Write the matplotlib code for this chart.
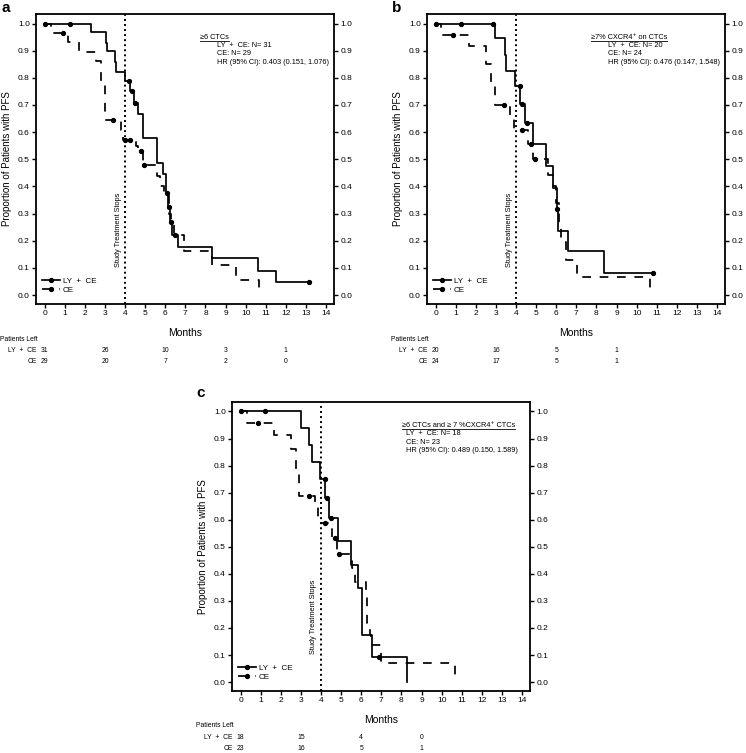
import numpy as np
import matplotlib
matplotlib.use("Agg")
import matplotlib.pyplot as plt
from matplotlib.lines import Line2D

plt.rcParams.update({
    "font.family": ["Liberation Sans", "DejaVu Sans"],
    "axes.linewidth": 1.3,
    "xtick.major.width": 1.0,
    "ytick.major.width": 1.0,
})

# ── panel a : >=6 CTCs ─────────────────────────────────────────
a_ly_t = [0, 2.3, 3.05, 3.1, 3.5, 3.55, 3.98, 4.25, 4.45, 4.65, 4.9, 5.58, 5.9,
          6.05, 6.15, 6.25, 6.35, 6.64, 8.33, 10.6, 11.5]
a_ly_s = [1.0, 0.967, 0.93, 0.90, 0.86, 0.82, 0.79, 0.75, 0.707, 0.668, 0.58, 0.488,
          0.445, 0.375, 0.326, 0.27, 0.221, 0.178, 0.135, 0.09, 0.047]
a_ly_end = 13.13
a_ly_cens = [0.0, 1.24, 4.22, 4.35, 4.5, 6.1, 6.2, 6.3, 6.5, 13.13]

a_ce_t = [0, 0.3, 1.17, 1.7, 2.57, 2.8, 3.0, 3.8, 3.92, 4.55, 4.65, 4.9, 5.6, 5.76,
          5.95, 6.2, 6.3, 6.45, 6.95, 8.33, 9.52, 10.65]
a_ce_s = [1.0, 0.966, 0.931, 0.896, 0.862, 0.79, 0.643, 0.606, 0.572, 0.55, 0.529,
          0.48, 0.44, 0.40, 0.37, 0.30, 0.26, 0.221, 0.162, 0.111, 0.055, 0.0]
a_ce_end = 10.65
a_ce_cens = [0.9, 3.4, 4.0, 4.24, 4.78, 4.96]

a_header = "\u22656 CTCs"
a_lines = ["LY  +  CE: N= 31", "CE: N= 29", "HR (95% CI): 0.403 (0.151, 1.076)"]
a_risk_months = [0, 3, 6, 9, 12]
a_ly_risk = [31, 26, 10, 3, 1]
a_ce_risk = [29, 20, 7, 2, 0]

# ── panel b : >=7% CXCR4+ on CTCs ──────────────────────────────
b_ly_t = [0, 2.94, 3.44, 3.52, 3.94, 4.22, 4.45, 4.85, 5.48, 5.83, 6.02, 6.08,
          6.61, 8.36]
b_ly_s = [1.0, 0.945, 0.883, 0.825, 0.77, 0.705, 0.634, 0.555, 0.477, 0.396,
          0.316, 0.237, 0.162, 0.08]
b_ly_end = 10.81
b_ly_cens = [0.0, 1.25, 2.86, 4.19, 4.3, 4.55, 6.05, 10.81]

b_ce_t = [0, 0.28, 1.66, 2.53, 2.74, 2.93, 3.69, 3.9, 4.6, 4.85, 5.6, 5.83, 6.0,
          6.16, 6.25, 6.5, 7.03, 10.65]
b_ce_s = [1.0, 0.958, 0.916, 0.852, 0.78, 0.699, 0.655, 0.606, 0.557, 0.5, 0.443,
          0.40, 0.34, 0.258, 0.197, 0.129, 0.065, 0.0]
b_ce_end = 10.65
b_ce_cens = [0.87, 3.41, 4.29, 4.72, 4.95]

b_header = "\u22657% CXCR4\u207a on CTCs"
b_lines = ["LY  +  CE: N= 20", "CE: N= 24", "HR (95% CI): 0.476 (0.147, 1.548)"]
b_risk_months = [0, 3, 6, 9]
b_ly_risk = [20, 16, 5, 1]
b_ce_risk = [24, 17, 5, 1]

# ── panel c : both ─────────────────────────────────────────────
c_ly_t = [0, 2.98, 3.39, 3.56, 3.97, 4.22, 4.42, 4.85, 5.49, 5.85, 6.04, 6.53, 8.3]
c_ly_s = [1.0, 0.938, 0.877, 0.813, 0.752, 0.68, 0.608, 0.521, 0.434, 0.346,
          0.173, 0.091, 0.0]
c_ly_end = 8.3
c_ly_cens = [0.0, 1.21, 4.18, 4.3, 4.48, 6.9]

c_ce_t = [0, 0.3, 1.67, 2.53, 2.74, 2.9, 3.69, 3.87, 4.56, 4.8, 5.52, 5.7, 6.24,
          6.3, 6.45, 6.5, 6.98, 10.65]
c_ce_s = [1.0, 0.957, 0.913, 0.862, 0.78, 0.686, 0.65, 0.588, 0.534, 0.472, 0.42,
          0.37, 0.32, 0.218, 0.173, 0.137, 0.069, 0.0]
c_ce_end = 10.65
c_ce_cens = [0.84, 3.41, 4.18, 4.7, 4.91]

c_header = "\u22656 CTCs and \u2265 7 %CXCR4\u207a CTCs"
c_lines = ["LY  +  CE: N= 18", "CE: N= 23", "HR (95% CI): 0.489 (0.150, 1.589)"]
c_risk_months = [0, 3, 6, 9]
c_ly_risk = [18, 15, 4, 0]
c_ce_risk = [23, 16, 5, 1]

DASH = (0, (5, 5))
DOT = (0, (1, 1.6))
SMALL = 4.9


def step_value(t, s, x):
    idx = np.searchsorted(np.asarray(t), x, side="right") - 1
    return np.asarray(s)[idx]


def km_curve(ax, t, s, end, cens, ls):
    xs = list(t) + [end]
    ys = list(s) + [s[-1]]
    ax.step(xs, ys, where="post", color="black", lw=1.25, linestyle=ls)
    cy = [step_value(t, s, c) for c in cens]
    ax.plot(cens, cy, "o", color="black", ms=2.8, linestyle="none")


def draw_panel(ax, ly, ce, header, lines, hx, lx, hy, months, ly_risk, ce_risk):
    km_curve(ax, *ly, "-")
    km_curve(ax, *ce, DASH)
    ax.axvline(4, color="black", lw=1.4, linestyle=DOT)
    ax.text(3.65, 0.24, "Study Treatment Stops", rotation=90, fontsize=5.3,
            ha="center", va="center")

    ax.set_xlim(-0.43, 14.4)
    ax.set_ylim(-0.033, 1.035)
    ax.set_xticks(range(15))
    ax.set_yticks(np.arange(0, 1.01, 0.1))
    ax.set_yticklabels([f"{v:.1f}" for v in np.arange(0, 1.01, 0.1)])
    ax.tick_params(axis="both", direction="out", length=3, labelsize=6, pad=1.5)
    ax.tick_params(axis="y", right=True, labelright=True)
    ax.set_xlabel("Months", fontsize=7.5)
    ax.xaxis.set_label_coords(0.5, -0.082)
    ax.set_ylabel("Proportion of Patients with PFS", fontsize=7, va="center")
    ax.yaxis.set_label_coords(-0.096, 0.5)

    head = ax.text(hx, hy, header, fontsize=5.3, va="center", ha="left")
    for i, line in enumerate(lines):
        ax.text(lx, hy - 0.031 * (i + 1), line, fontsize=5.3, va="center", ha="left")

    handles = [Line2D([], [], color="black", lw=1.25, marker="o", ms=2.8),
               Line2D([], [], color="black", lw=1.25, marker="o", ms=2.8,
                      linestyle=DASH)]
    ax.legend(handles, ["LY  +  CE", "CE"], loc="lower left",
              bbox_to_anchor=(0.02, 0.035), frameon=False, fontsize=5.8,
              handlelength=2.2, handletextpad=0.4, labelspacing=0.15,
              borderpad=0, borderaxespad=0, numpoints=1)

    tr = ax.get_xaxis_transform()
    ax.text(-2.2, -0.121, "Patients Left", transform=tr, fontsize=SMALL,
            ha="left", va="center", clip_on=False)
    ax.text(-0.4, -0.162, "LY  +  CE", transform=tr, fontsize=SMALL,
            ha="right", va="center", clip_on=False)
    ax.text(-0.4, -0.2, "CE", transform=tr, fontsize=SMALL,
            ha="right", va="center", clip_on=False)
    for m, n1, n2 in zip(months, ly_risk, ce_risk):
        ax.text(m, -0.162, str(n1), transform=tr, fontsize=SMALL,
                ha="center", va="center", clip_on=False)
        ax.text(m, -0.2, str(n2), transform=tr, fontsize=SMALL,
                ha="center", va="center", clip_on=False)
    return head


fig = plt.figure(figsize=(7.46, 7.53), dpi=100)
ax_a = fig.add_axes([0.0483, 0.5963, 0.3995, 0.3851])
ax_b = fig.add_axes([0.5724, 0.5963, 0.3995, 0.3851])
ax_c = fig.add_axes([0.311, 0.0823, 0.3995, 0.3838])

heads = []
heads.append(draw_panel(ax_a, (a_ly_t, a_ly_s, a_ly_end, a_ly_cens),
                        (a_ce_t, a_ce_s, a_ce_end, a_ce_cens),
                        a_header, a_lines, 7.75, 8.58, 0.95,
                        a_risk_months, a_ly_risk, a_ce_risk))
heads.append(draw_panel(ax_b, (b_ly_t, b_ly_s, b_ly_end, b_ly_cens),
                        (b_ce_t, b_ce_s, b_ce_end, b_ce_cens),
                        b_header, b_lines, 7.72, 8.56, 0.95,
                        b_risk_months, b_ly_risk, b_ce_risk))
heads.append(draw_panel(ax_c, (c_ly_t, c_ly_s, c_ly_end, c_ly_cens),
                        (c_ce_t, c_ce_s, c_ce_end, c_ce_cens),
                        c_header, c_lines, 8.02, 8.22, 0.948,
                        c_risk_months, c_ly_risk, c_ce_risk))

fig.text(2 / 746, 1 - 1 / 753, "a", fontsize=11, fontweight="bold", va="top")
fig.text(392 / 746, 1 - 1 / 753, "b", fontsize=11, fontweight="bold", va="top")
fig.text(196 / 746, 1 - 386 / 753, "c", fontsize=11, fontweight="bold", va="top")

# underline the subgroup headers
fig.canvas.draw()
renderer = fig.canvas.get_renderer()
for h in heads:
    bb = h.get_window_extent(renderer).transformed(fig.transFigure.inverted())
    fig.add_artist(Line2D([bb.x0, bb.x1], [bb.y0, bb.y0], color="black", lw=0.6,
                          transform=fig.transFigure))

fig.savefig("out.png", dpi=100, facecolor="white")
